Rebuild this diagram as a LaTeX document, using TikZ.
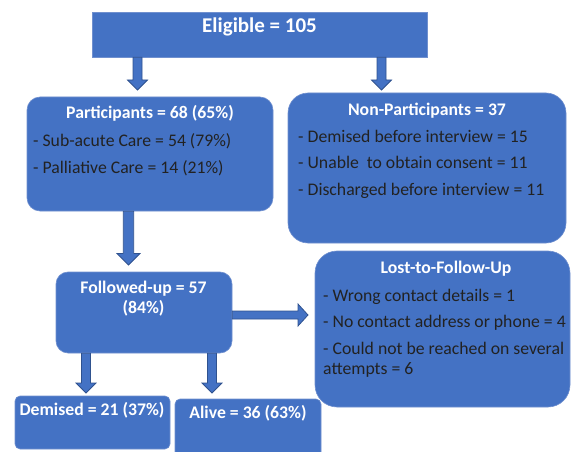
\documentclass[tikz,border=0pt]{standalone}
\usepackage{fontspec}
\setmainfont{Carlito}
\usetikzlibrary{calc}

\definecolor{boxblue}{HTML}{4472C4}
\definecolor{boxedge}{HTML}{7090CF}
\definecolor{arrowedge}{HTML}{2F528F}
\definecolor{listtext}{HTML}{222222}

\begin{document}
\begin{tikzpicture}[x=1pt, y=-1pt,
    box/.style={rectangle, draw=boxedge, line width=0.6pt, fill=boxblue, inner sep=0pt},
    head/.style={text=white, font=\bfseries\fontsize{17.7}{20}\selectfont, inner sep=0pt, anchor=base},
    item/.style={text=listtext, font=\fontsize{17.7}{26.5}\selectfont, inner sep=0pt, anchor=base west, align=left},
    downblk/.style={draw=arrowedge, line width=0.8pt, fill=boxblue, to path={
        let \p1=(\tikztostart), \p2=(\tikztotarget) in
        (\x1-4.5pt*#1,\y1) -- (\x1-4.5pt*#1,\y2+10pt*#1) -- (\x1-10pt*#1,\y2+10pt*#1) -- (\x1,\y2)
        -- (\x1+10pt*#1,\y2+10pt*#1) -- (\x1+4.5pt*#1,\y2+10pt*#1) -- (\x1+4.5pt*#1,\y1) -- cycle}},
    downblk/.default=1,
    rightblk/.style={draw=arrowedge, line width=0.8pt, fill=boxblue, to path={
        let \p1=(\tikztostart), \p2=(\tikztotarget) in
        (\x1,\y1-4pt) -- (\x2-10pt,\y1-4pt) -- (\x2-10pt,\y1-11pt) -- (\x2,\y1)
        -- (\x2-10pt,\y1+11pt) -- (\x2-10pt,\y1+4pt) -- (\x1,\y1+4pt) -- cycle}}
]
\useasboundingbox (0,0) rectangle (571,452);

% boxes
\node[box, minimum width=335pt, minimum height=45pt] (elig) at (259.5,34.5) {};
\node[box, minimum width=246pt, minimum height=114pt, rounded corners=13pt] (part) at (150,154) {};
\node[box, minimum width=278pt, minimum height=150pt, rounded corners=20pt] (nonp) at (427,168) {};
\node[box, minimum width=176pt, minimum height=81pt, rounded corners=12pt] (fol) at (144,312.5) {};
\node[box, minimum width=255pt, minimum height=156pt, rounded corners=22pt] (lost) at (442.5,329) {};
\node[box, minimum width=155pt, minimum height=53pt, rounded corners=5pt] (dem) at (92.5,422.5) {};
\node[box, minimum width=146pt, minimum height=58pt, rounded corners=5pt] (alive) at (248,428) {};

% texts (multi-line nodes sit on their last baseline)
\node[head, font=\bfseries\fontsize{21}{24}\selectfont] (eligt) at (259.5,33) {Eligible = 105};
\node[head] (partt) at (150,119) {Participants = 68 (65\%)};
\node[item] (partl) at (33,173) {- Sub-acute Care = 54 (79\%)\\- Palliative Care = 14 (21\%)};
\node[head] (nonpt) at (427,116) {Non-Participants = 37};
\node[item] (nonpl) at (298,195) {- Demised before interview = 15\\- Unable\ \ to obtain consent = 11\\- Discharged before interview = 11};
\node[head, align=center] (folt) at (143.5,313) {Followed-up = 57\\(84\%)};
\node[head] (lostt) at (446,273) {Lost-to-Follow-Up};
\node[item] (lostl) at (323,374) {- Wrong contact details = 1\\- No contact address or phone = 4\\- Could not be reached on several\\[-6.5pt]attempts = 6};
\node[head] (demt) at (92,415) {Demised = 21 (37\%)};
\node[head] (alivet) at (248,418) {Alive = 36 (63\%)};

% arrow tips
\coordinate (tipP) at (137.5,90);
\coordinate (tipN) at (381.5,90);
\coordinate (tipF) at (128.5,265);
\coordinate (tipL) at (308,315);
\coordinate (tipD) at (86,393);
\coordinate (tipA) at (212,393);

% arrows
\draw[downblk] (elig.south -| tipP) to (tipP);
\draw[downblk] (elig.south -| tipN) to (tipN);
\draw[downblk=1.15] (part.south -| tipF) to (tipF);
\draw[rightblk] (fol.east |- tipL) to (tipL);
\draw[downblk] (fol.south -| tipD) to (tipD);
\draw[downblk] (fol.south -| tipA) to (tipA);

\end{tikzpicture}
\end{document}
